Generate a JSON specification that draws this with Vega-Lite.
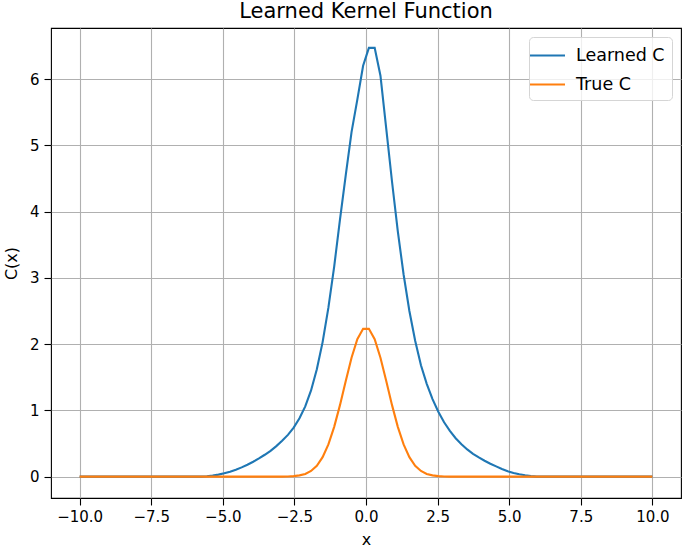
{
  "$schema": "https://vega.github.io/schema/vega-lite/v6.json",
  "width": 630,
  "height": 470,
  "autosize": {"type": "none"},
  "padding": {"left": 51, "top": 28, "right": 4, "bottom": 53},
  "background": "white",
  "title": {"text": "Learned Kernel Function", "font": "DejaVu Sans", "fontSize": 21, "fontWeight": "normal", "color": "black", "anchor": "middle", "offset": 6},
  "config": {
    "view": {"stroke": "black", "strokeWidth": 1.1},
    "axis": {"labelFont": "DejaVu Sans", "titleFont": "DejaVu Sans", "labelFontSize": 15, "titleFontSize": 16, "titleFontWeight": "normal", "labelColor": "black", "titleColor": "black", "tickColor": "black", "tickSize": 7, "tickWidth": 1.1, "domain": false, "grid": true, "gridColor": "#b0b0b0", "gridWidth": 1.1},
    "legend": {"labelFont": "DejaVu Sans", "labelFontSize": 17.5, "labelColor": "black"}
  },
  "data": {"values": [
    {"x": -10, "Learned C": 0, "True C": 0},
    {"x": -9.798, "Learned C": 0, "True C": 0},
    {"x": -9.596, "Learned C": 0, "True C": 0},
    {"x": -9.394, "Learned C": 0, "True C": 0},
    {"x": -9.192, "Learned C": 0, "True C": 0},
    {"x": -8.99, "Learned C": 0, "True C": 0},
    {"x": -8.788, "Learned C": 0, "True C": 0},
    {"x": -8.586, "Learned C": 0, "True C": 0},
    {"x": -8.384, "Learned C": 0, "True C": 0},
    {"x": -8.182, "Learned C": 0, "True C": 0},
    {"x": -7.98, "Learned C": 0, "True C": 0},
    {"x": -7.778, "Learned C": 0, "True C": 0},
    {"x": -7.576, "Learned C": 0, "True C": 0},
    {"x": -7.374, "Learned C": 0, "True C": 0},
    {"x": -7.172, "Learned C": 0, "True C": 0},
    {"x": -6.97, "Learned C": 0, "True C": 0},
    {"x": -6.768, "Learned C": 0, "True C": 0},
    {"x": -6.566, "Learned C": 0, "True C": 0},
    {"x": -6.364, "Learned C": 0, "True C": 0},
    {"x": -6.162, "Learned C": 0, "True C": 0},
    {"x": -5.96, "Learned C": 0, "True C": 0},
    {"x": -5.758, "Learned C": 0, "True C": 0},
    {"x": -5.556, "Learned C": 0.005, "True C": 0},
    {"x": -5.354, "Learned C": 0.015, "True C": 0},
    {"x": -5.152, "Learned C": 0.03, "True C": 0},
    {"x": -4.949, "Learned C": 0.05, "True C": 0},
    {"x": -4.747, "Learned C": 0.075, "True C": 0},
    {"x": -4.545, "Learned C": 0.105, "True C": 0},
    {"x": -4.343, "Learned C": 0.14, "True C": 0},
    {"x": -4.141, "Learned C": 0.18, "True C": 0},
    {"x": -3.939, "Learned C": 0.225, "True C": 0},
    {"x": -3.737, "Learned C": 0.275, "True C": 0},
    {"x": -3.535, "Learned C": 0.33, "True C": 0},
    {"x": -3.333, "Learned C": 0.39, "True C": 0},
    {"x": -3.131, "Learned C": 0.46, "True C": 0},
    {"x": -2.929, "Learned C": 0.54, "True C": 0},
    {"x": -2.727, "Learned C": 0.63, "True C": 0.003},
    {"x": -2.525, "Learned C": 0.74, "True C": 0.008},
    {"x": -2.323, "Learned C": 0.88, "True C": 0.019},
    {"x": -2.121, "Learned C": 1.06, "True C": 0.041},
    {"x": -1.919, "Learned C": 1.3, "True C": 0.085},
    {"x": -1.717, "Learned C": 1.62, "True C": 0.164},
    {"x": -1.515, "Learned C": 2.03, "True C": 0.293},
    {"x": -1.313, "Learned C": 2.55, "True C": 0.486},
    {"x": -1.111, "Learned C": 3.17, "True C": 0.751},
    {"x": -0.909, "Learned C": 3.88, "True C": 1.079},
    {"x": -0.707, "Learned C": 4.55, "True C": 1.443},
    {"x": -0.505, "Learned C": 5.2, "True C": 1.794},
    {"x": -0.303, "Learned C": 5.69, "True C": 2.074},
    {"x": -0.101, "Learned C": 6.2, "True C": 2.23},
    {"x": 0.101, "Learned C": 6.47, "True C": 2.23},
    {"x": 0.303, "Learned C": 6.47, "True C": 2.074},
    {"x": 0.505, "Learned C": 6.05, "True C": 1.794},
    {"x": 0.707, "Learned C": 5.25, "True C": 1.443},
    {"x": 0.909, "Learned C": 4.45, "True C": 1.079},
    {"x": 1.111, "Learned C": 3.7, "True C": 0.751},
    {"x": 1.313, "Learned C": 3.05, "True C": 0.486},
    {"x": 1.515, "Learned C": 2.5, "True C": 0.293},
    {"x": 1.717, "Learned C": 2.05, "True C": 0.164},
    {"x": 1.919, "Learned C": 1.68, "True C": 0.085},
    {"x": 2.121, "Learned C": 1.4, "True C": 0.041},
    {"x": 2.323, "Learned C": 1.17, "True C": 0.019},
    {"x": 2.525, "Learned C": 0.98, "True C": 0.008},
    {"x": 2.727, "Learned C": 0.82, "True C": 0.003},
    {"x": 2.929, "Learned C": 0.69, "True C": 0},
    {"x": 3.131, "Learned C": 0.58, "True C": 0},
    {"x": 3.333, "Learned C": 0.49, "True C": 0},
    {"x": 3.535, "Learned C": 0.41, "True C": 0},
    {"x": 3.737, "Learned C": 0.345, "True C": 0},
    {"x": 3.939, "Learned C": 0.29, "True C": 0},
    {"x": 4.141, "Learned C": 0.24, "True C": 0},
    {"x": 4.343, "Learned C": 0.195, "True C": 0},
    {"x": 4.545, "Learned C": 0.155, "True C": 0},
    {"x": 4.747, "Learned C": 0.115, "True C": 0},
    {"x": 4.949, "Learned C": 0.08, "True C": 0},
    {"x": 5.152, "Learned C": 0.055, "True C": 0},
    {"x": 5.354, "Learned C": 0.035, "True C": 0},
    {"x": 5.556, "Learned C": 0.02, "True C": 0},
    {"x": 5.758, "Learned C": 0.008, "True C": 0},
    {"x": 5.96, "Learned C": 0, "True C": 0},
    {"x": 6.162, "Learned C": 0, "True C": 0},
    {"x": 6.364, "Learned C": 0, "True C": 0},
    {"x": 6.566, "Learned C": 0, "True C": 0},
    {"x": 6.768, "Learned C": 0, "True C": 0},
    {"x": 6.97, "Learned C": 0, "True C": 0},
    {"x": 7.172, "Learned C": 0, "True C": 0},
    {"x": 7.374, "Learned C": 0, "True C": 0},
    {"x": 7.576, "Learned C": 0, "True C": 0},
    {"x": 7.778, "Learned C": 0, "True C": 0},
    {"x": 7.98, "Learned C": 0, "True C": 0},
    {"x": 8.182, "Learned C": 0, "True C": 0},
    {"x": 8.384, "Learned C": 0, "True C": 0},
    {"x": 8.586, "Learned C": 0, "True C": 0},
    {"x": 8.788, "Learned C": 0, "True C": 0},
    {"x": 8.99, "Learned C": 0, "True C": 0},
    {"x": 9.192, "Learned C": 0, "True C": 0},
    {"x": 9.394, "Learned C": 0, "True C": 0},
    {"x": 9.596, "Learned C": 0, "True C": 0},
    {"x": 9.798, "Learned C": 0, "True C": 0},
    {"x": 10, "Learned C": 0, "True C": 0}
  ]},
  "transform": [{"fold": ["Learned C", "True C"], "as": ["series", "value"]}],
  "mark": {"type": "line", "strokeWidth": 2.1, "clip": true},
  "encoding": {
    "x": {"field": "x", "type": "quantitative", "scale": {"domain": [-11, 11], "nice": false, "zero": false},
          "axis": {"values": [-10, -7.5, -5, -2.5, 0, 2.5, 5, 7.5, 10], "format": ".1f", "title": "x", "labelPadding": 4, "titlePadding": 7}},
    "y": {"field": "value", "type": "quantitative", "scale": {"domain": [-0.3225, 6.77], "nice": false, "zero": false},
          "axis": {"values": [0, 1, 2, 3, 4, 5, 6], "format": "d", "title": "C(x)", "labelPadding": 5, "titlePadding": 10}},
    "color": {"field": "series", "type": "nominal",
              "scale": {"domain": ["Learned C", "True C"], "range": ["#1f77b4", "#ff7f0e"]},
              "legend": {"title": null, "orient": "top-right", "offset": 9, "symbolType": "M-1.75,0H1.75", "symbolSize": 400, "symbolStrokeWidth": 2.1, "symbolOffset": 0, "rowPadding": 9, "labelOffset": 17, "padding": 7, "strokeColor": "#d5d5d5", "fillColor": "rgba(255,255,255,0.8)", "cornerRadius": 4}},
    "order": {"field": "x", "type": "quantitative"}
  }
}
